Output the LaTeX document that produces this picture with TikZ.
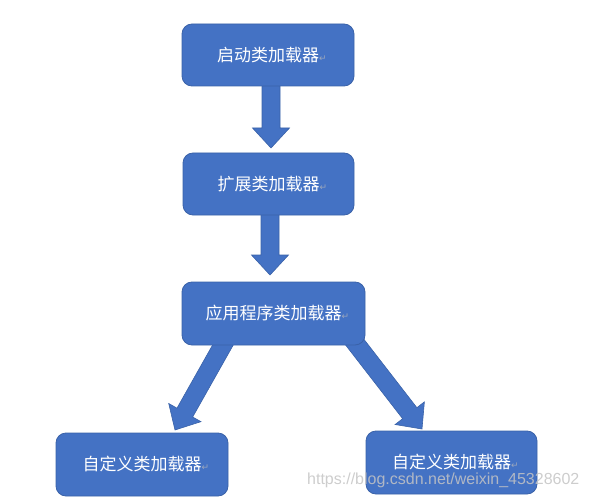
\documentclass[tikz,border=0pt]{standalone}
\usepackage{fontspec}
\setmainfont{Liberation Sans}
\newfontfamily\cjk{Noto Sans CJK SC}
\newfontfamily\symf{DejaVu Sans}
\usetikzlibrary{calc}
\definecolor{boxfill}{HTML}{4472C4}
\definecolor{boxline}{HTML}{3A62A8}
\definecolor{retmark}{HTML}{9AA6BC}
\definecolor{wmark}{HTML}{C4C4C4}
\tikzset{
  loader/.style={draw=boxline, line width=0.8pt, fill=boxfill, rounded corners=10pt,
    text=white, font=\cjk\fontsize{17}{17}\selectfont, inner sep=0pt, anchor=center},
  blockarrow/.style={draw=boxline, line width=0.6pt, fill=boxfill, line join=miter},
}
\newcommand{\ret}{\rlap{\textcolor{retmark}{\symf\fontsize{9}{9}\selectfont ↵}}}
% block arrow from #1 (tail) to #2 (tip); shaft half width 9pt, head half width 18.5pt, head length 20pt
\newcommand{\blkarrow}[3]{%
  \coordinate (#3h) at ($(#2)!20pt!(#1)$);
  \path[blockarrow] ($(#1)!9pt!90:(#2)$) -- ($(#3h)!9pt!-90:(#1)$) -- ($(#3h)!18.5pt!-90:(#1)$)
    -- (#2) -- ($(#3h)!18.5pt!90:(#1)$) -- ($(#3h)!9pt!90:(#1)$) -- ($(#1)!9pt!-90:(#2)$) -- cycle;
}
\begin{document}
\begin{tikzpicture}[x=1pt,y=-1pt]
\useasboundingbox (0,0) rectangle (589,500);
% arrow coordinates
\coordinate (a1s) at (271,80);
\coordinate (a1e) at (271,148);
\coordinate (a2s) at (270,209);
\coordinate (a2e) at (270,275);
\coordinate (a3s) at (228,336);
\coordinate (a3e) at (175,430);
\coordinate (a4s) at (350,336);
\coordinate (a4e) at (422,429);
\blkarrow{a1s}{a1e}{x1}
\blkarrow{a2s}{a2e}{x2}
\blkarrow{a3s}{a3e}{x3}
\blkarrow{a4s}{a4e}{x4}
% boxes
\node[loader, minimum width=172pt, minimum height=62pt] (boot) at (268,55) {启动类加载器\ret};
\node[loader, minimum width=171pt, minimum height=62pt] (ext) at (268.5,184) {扩展类加载器\ret};
\node[loader, minimum width=183pt, minimum height=63pt] (app) at (273.5,313.5) {应用程序类加载器\ret};
\node[loader, minimum width=172pt, minimum height=63pt] (cust1) at (142,464.5) {自定义类加载器\ret};
\node[loader, minimum width=171pt, minimum height=63pt] (cust2) at (451.5,462.5) {自定义类加载器\ret};
% watermark
\node[anchor=west, text=wmark, opacity=0.85, inner sep=0pt, font=\fontsize{16}{16}\selectfont] (wm) at (307,480) {https://blog.csdn.net/weixin\_45328602};
\end{tikzpicture}
\end{document}
